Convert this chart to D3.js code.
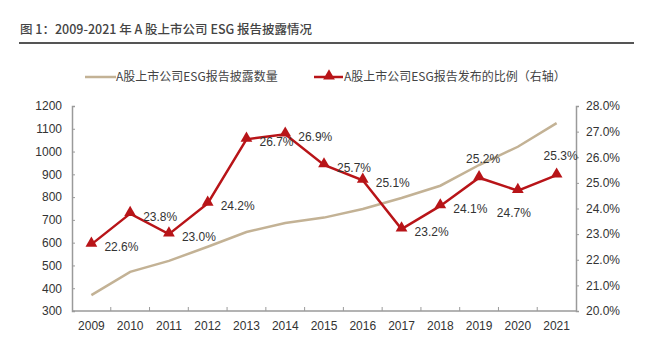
<!DOCTYPE html>
<html>
<head>
<meta charset="utf-8">
<script src="https://cdn.jsdelivr.net/npm/d3@7"></script>
<style>
  body { margin: 0; background: #fff; }
  text { font-family: "Liberation Sans", Arial, "Noto Sans CJK SC", sans-serif; }
  .cjk { font-family: "Noto Sans CJK SC", sans-serif; }
</style>
</head>
<body>
<script>
// Chart data
var years  = ["2009", "2010", "2011", "2012", "2013", "2014", "2015",
              "2016", "2017", "2018", "2019", "2020", "2021"];
var counts = [370, 472, 520, 582, 647, 686, 710, 748, 796, 850, 941, 1021, 1125];
var ratios = [22.6, 23.8, 23.0, 24.2, 26.7, 26.9, 25.7, 25.1, 23.2, 24.1, 25.2, 24.7, 25.3];
var leftTicks  = [300, 400, 500, 600, 700, 800, 900, 1000, 1100, 1200];
var rightTicks = [20, 21, 22, 23, 24, 25, 26, 27, 28];
// where each data label sits relative to its point: r = right, a = above, b = below
var labelPos = ["r", "r", "r", "r", "r", "r", "r", "r", "r", "r", "a", "b", "a"];

var title = "图 1：2009-2021 年 A 股上市公司 ESG 报告披露情况";
var legendCount = "A股上市公司ESG报告披露数量";
var legendRatio = "A股上市公司ESG报告发布的比例（右轴）";

var width = 661, height = 352;
// plot edges (window.top is reserved, so use own names)
var plot_l = 72, plot_r = 576, plot_t = 106, plot_b = 311;

var svg = d3.select("body").append("svg")
    .attr("width", width)
    .attr("height", height);

// Title and rule
svg.append("text")
    .attr("class", "cjk")
    .attr("x", 20).attr("y", 34)
    .attr("font-size", 12.5)
    .attr("font-weight", 500)
    .attr("fill", "#444")
    .text(title);
svg.append("line")
    .attr("x1", 19).attr("x2", 634)
    .attr("y1", 43).attr("y2", 43)
    .attr("stroke", "#555").attr("stroke-width", 2);

// Scales
var x = d3.scaleBand().domain(years).range([plot_l, plot_r]);
var yL = d3.scaleLinear().domain([300, 1200]).range([plot_b, plot_t]);
var yR = d3.scaleLinear().domain([20, 28]).range([plot_b, plot_t]);

// Axes
var axisColor = "#9a9a9a";
var gx = svg.append("g").attr("transform", "translate(0," + plot_b + ")");
gx.append("line").attr("x1", plot_l).attr("x2", plot_r)
    .attr("stroke", axisColor).attr("stroke-width", 1.5);
gx.selectAll(".tk").data(years.slice(1)).enter().append("line")
    .attr("x1", function (d) { return x(d); })
    .attr("x2", function (d) { return x(d); })
    .attr("y1", 0).attr("y2", -4)
    .attr("stroke", axisColor);
gx.selectAll(".lb").data(years).enter().append("text")
    .attr("x", function (d) { return x(d) + x.bandwidth() / 2; })
    .attr("y", 19)
    .attr("text-anchor", "middle")
    .attr("font-size", 12).attr("fill", "#333")
    .text(function (d) { return d; });

var gl = svg.append("g").attr("transform", "translate(" + plot_l + ",0)")
    .call(d3.axisLeft(yL).tickValues(leftTicks).tickSize(-3).tickPadding(10)
        .tickFormat(d3.format("d")));
var gr = svg.append("g").attr("transform", "translate(" + plot_r + ",0)")
    .call(d3.axisRight(yR).tickValues(rightTicks).tickSize(3).tickPadding(7)
        .tickFormat(function (d) { return d.toFixed(1) + "%"; }));
[gl, gr].forEach(function (g) {
    g.select(".domain").attr("stroke", axisColor).attr("stroke-width", 1.5);
    g.selectAll(".tick line").attr("stroke", axisColor);
    g.selectAll(".tick text").attr("font-size", 12).attr("fill", "#333")
        .style("font-family", '"Liberation Sans", Arial, sans-serif');
});

var cx = function (d, i) { return x(years[i]) + x.bandwidth() / 2; };

// Count line (tan)
var tan = "#c3b295";
svg.append("path")
    .datum(counts)
    .attr("fill", "none")
    .attr("stroke", tan).attr("stroke-width", 2.5)
    .attr("d", d3.line().x(cx).y(function (d) { return yL(d); }));

// Ratio line (red)
var red = "#b81418";
svg.append("path")
    .datum(ratios)
    .attr("fill", "none")
    .attr("stroke", red).attr("stroke-width", 2.5)
    .attr("d", d3.line().x(cx).y(function (d) { return yR(d); }));

var tri = d3.symbol().type(d3.symbolTriangle).size(60);
svg.selectAll(".mk").data(ratios).enter().append("path")
    .attr("d", tri)
    .attr("fill", red)
    .attr("transform", function (d, i) {
        return "translate(" + cx(d, i) + "," + (yR(d) - 1) + ")";
    });

// Data labels
svg.selectAll(".dl").data(ratios).enter().append("text")
    .attr("x", function (d, i) {
        var p = labelPos[i];
        if (p == "r") return cx(d, i) + 13;
        if (p == "a") return cx(d, i) + 4;
        return cx(d, i) - 4;
    })
    .attr("y", function (d, i) {
        var p = labelPos[i];
        if (p == "a") return yR(d) - 15;
        if (p == "b") return yR(d) + 26;
        return yR(d) + 7;
    })
    .attr("text-anchor", function (d, i) { return labelPos[i] == "r" ? "start" : "middle"; })
    .attr("font-size", 12).attr("fill", "#333")
    .text(function (d) { return d.toFixed(1) + "%"; });

// Legend
var lg = svg.append("g");
lg.append("line").attr("x1", 85).attr("x2", 116).attr("y1", 77).attr("y2", 77)
    .attr("stroke", tan).attr("stroke-width", 2.5);
lg.append("text").attr("class", "cjk").attr("x", 116).attr("y", 81)
    .attr("font-size", 12).attr("fill", "#444").text(legendCount);
lg.append("line").attr("x1", 314).attr("x2", 343).attr("y1", 77).attr("y2", 77)
    .attr("stroke", red).attr("stroke-width", 2.5);
lg.append("path").attr("d", tri).attr("fill", red)
    .attr("transform", "translate(329,76)");
lg.append("text").attr("class", "cjk").attr("x", 344).attr("y", 81)
    .attr("font-size", 12).attr("fill", "#444").text(legendRatio);
</script>
</body>
</html>
